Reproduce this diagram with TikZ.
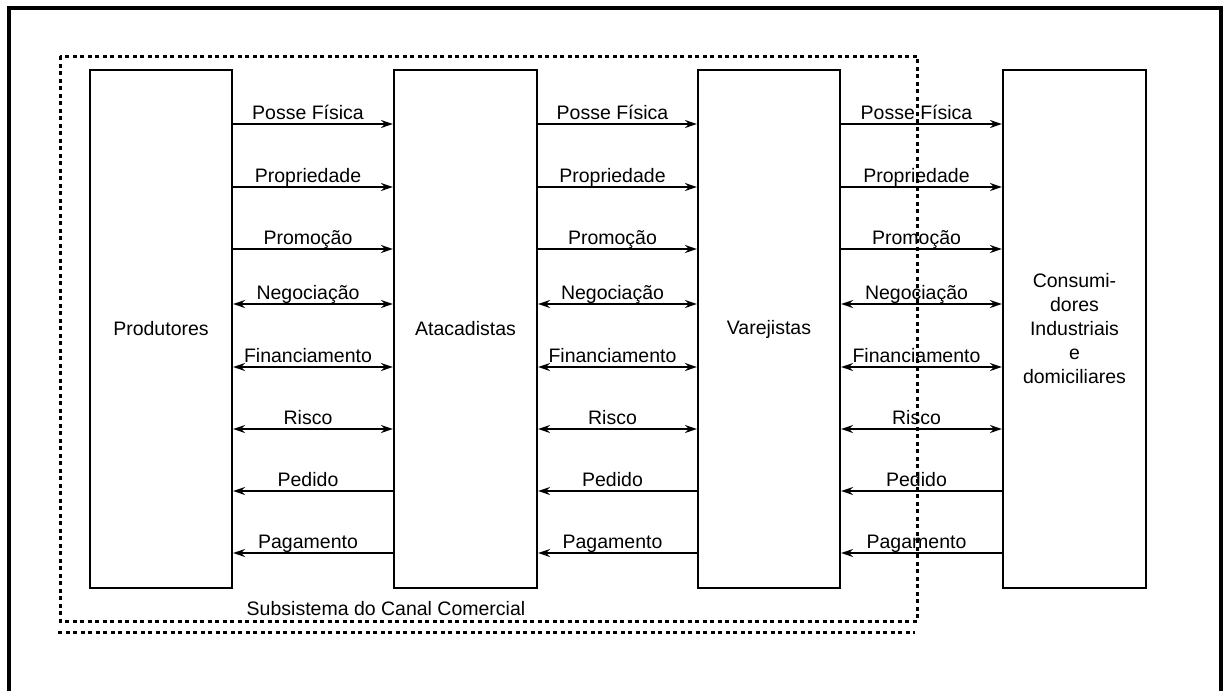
\documentclass[tikz,border=0pt]{standalone}
\usepackage{fontspec}
\setmainfont{Liberation Sans}
\usetikzlibrary{arrows.meta}
\begin{document}
\begin{tikzpicture}[x=1pt,y=-1pt,
  txt/.style={font=\fontsize{19.5}{24}\selectfont},
  box/.style={draw, line width=2.2pt, minimum height=518pt, inner sep=0pt, align=center, txt},
  lbl/.style={txt, anchor=base, inner sep=0pt, yshift=5pt, xshift=-5pt},
  conn/.style={line width=2pt},
  fwd/.style={conn, -{Stealth[length=12pt,width=8pt]}},
  bwd/.style={conn, {Stealth[length=12pt,width=8pt]}-},
  both/.style={conn, {Stealth[length=12pt,width=8pt]}-{Stealth[length=12pt,width=8pt]}},
  dotline/.style={line width=3pt, dash pattern=on 4pt off 3.5pt},
  frame/.style={line width=4pt}]
\useasboundingbox (0,0) rectangle (1226,691);
\fill[white] (0,0) rectangle (1226,691);
% outer frame
\draw[frame] (9,691) -- (9,8) -- (1221,8) -- (1221,691);
% subsystem boundary
\draw[dotline] (60,56) rectangle (917,621);
\draw[dotline] (58,632) -- (915,632);
\node[txt, anchor=base, inner sep=0pt] (sub) at (386,615) {Subsistema do Canal Comercial};
% boxes
\node[box, minimum width=142pt] (P) at (161,329) {Produtores};
\node[box, minimum width=143pt] (A) at (465.5,329) {Atacadistas};
\node[box, minimum width=142pt] (V) at (769,329) {Varejistas};
\node[box, minimum width=143pt] (C) at (1074.5,329) {Consumi-\\dores\\Industriais\\e\\domiciliares};
% flows
\foreach \l/\r in {P/A, A/V, V/C} {
  \foreach \y/\t/\s in {124/Posse Física/fwd, 187/Propriedade/fwd, 249/Promoção/fwd,
      304/Negociação/both, 367/Financiamento/both, 429/Risco/both,
      491/Pedido/bwd, 553/Pagamento/bwd} {
    \draw[\s] (\l.east |- 0,\y) -- (\r.west |- 0,\y) node[lbl, midway] {\t};
  }
}
\end{tikzpicture}
\end{document}
